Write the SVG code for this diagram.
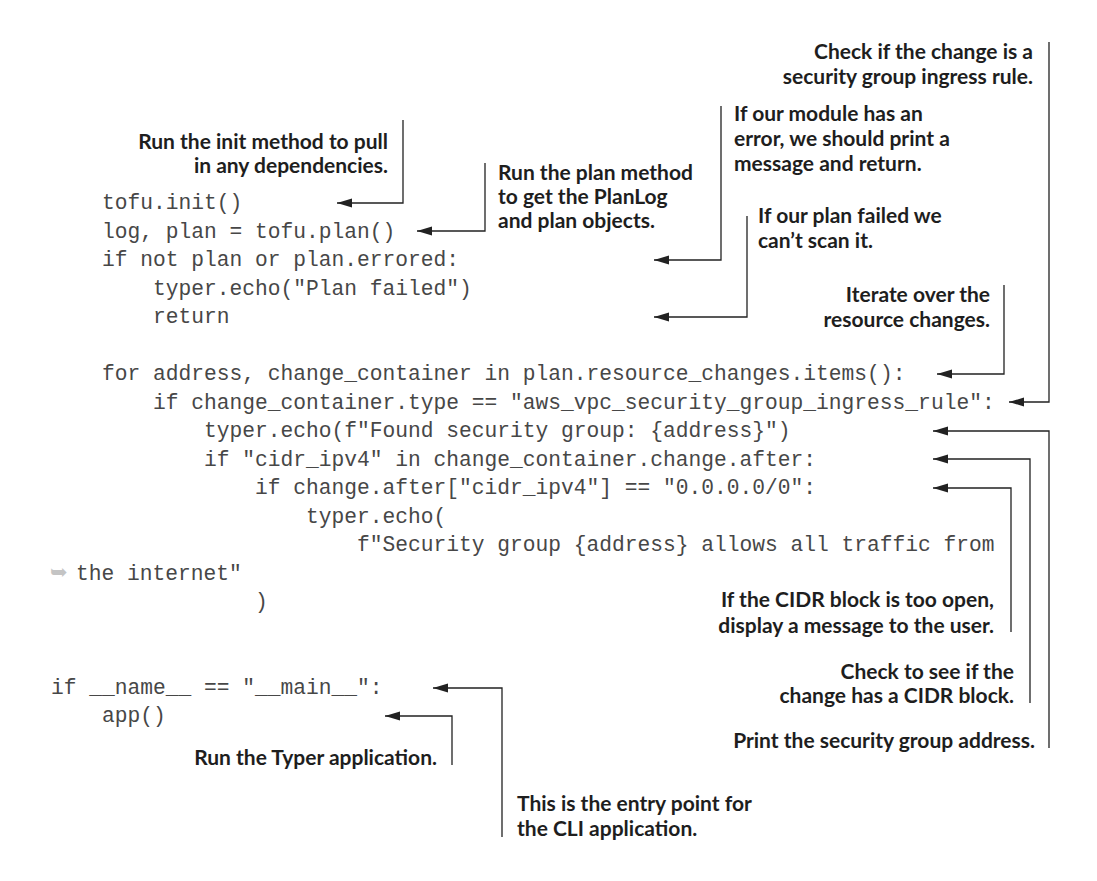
<svg xmlns="http://www.w3.org/2000/svg" width="1097" height="881" viewBox="0 0 1097 881">
<style>
.code{font-family:"Liberation Mono","Courier New",monospace;font-size:21.25px;fill:#474747}
.lbl{font-family:Lato,"Open Sans",sans-serif;font-weight:bold;font-size:21px;fill:#1e1e1e}
.end{text-anchor:end}
.cn{fill:none;stroke:#222;stroke-width:1.3}
.cont{font-family:"DejaVu Sans",sans-serif;font-size:21px;fill:#c4c4c4}
</style>
<defs>
<marker id="ah" markerUnits="userSpaceOnUse" markerWidth="16" markerHeight="10" refX="15" refY="4.5" orient="auto">
<path d="M0,0 L15,4.5 L0,9 z" fill="#222"/>
</marker>
</defs>
<rect width="1097" height="881" fill="#fff"/>
<g id="code">
<text class="code" x="102" y="209">tofu.init()</text>
<text class="code" x="102" y="237.5">log, plan = tofu.plan()</text>
<text class="code" x="102" y="266">if not plan or plan.errored:</text>
<text class="code" x="153" y="294.5">typer.echo("Plan failed")</text>
<text class="code" x="153" y="323">return</text>
<text class="code" x="102" y="380">for address, change_container in plan.resource_changes.items():</text>
<text class="code" x="153" y="408.5">if change_container.type == "aws_vpc_security_group_ingress_rule":</text>
<text class="code" x="204" y="437">typer.echo(f"Found security group: {address}")</text>
<text class="code" x="204" y="465.5">if "cidr_ipv4" in change_container.change.after:</text>
<text class="code" x="255" y="494">if change.after["cidr_ipv4"] == "0.0.0.0/0":</text>
<text class="code" x="306" y="522.5">typer.echo(</text>
<text class="code" x="357" y="551">f"Security group {address} allows all traffic from</text>
<text class="cont" x="50" y="579">➥</text>
<text class="code" x="76" y="579.5">the internet"</text>
<text class="code" x="255" y="608">)</text>
<text class="code" x="51" y="694">if __name__ == "__main__":</text>
<text class="code" x="102" y="722">app()</text>
</g>
<g id="connectors">
<path class="cn" d="M403,120 V203 H337" marker-end="url(#ah)"/>
<path class="cn" d="M485,163 V231 H417" marker-end="url(#ah)"/>
<path class="cn" d="M721,106 V260 H654" marker-end="url(#ah)"/>
<path class="cn" d="M747,216 V317 H654" marker-end="url(#ah)"/>
<path class="cn" d="M1004,285 V374 H937" marker-end="url(#ah)"/>
<path class="cn" d="M1049,42 V402 H1009" marker-end="url(#ah)"/>
<path class="cn" d="M1049,748 V431 H933" marker-end="url(#ah)"/>
<path class="cn" d="M1030,703 V459 H933" marker-end="url(#ah)"/>
<path class="cn" d="M1011,632 V488 H933" marker-end="url(#ah)"/>
<path class="cn" d="M502,837 V688 H433" marker-end="url(#ah)"/>
<path class="cn" d="M452,765 V716 H385" marker-end="url(#ah)"/>
</g>
<g id="note-init">
<text class="lbl end" x="388" y="149">Run the init method to pull</text>
<text class="lbl end" x="388" y="173">in any dependencies.</text>
</g>
<g id="note-plan">
<text class="lbl" x="498" y="180">Run the plan method</text>
<text class="lbl" x="498" y="204">to get the PlanLog</text>
<text class="lbl" x="498" y="228">and plan objects.</text>
</g>
<g id="note-module">
<text class="lbl" x="734" y="121">If our module has an</text>
<text class="lbl" x="734" y="146">error, we should print a</text>
<text class="lbl" x="734" y="171">message and return.</text>
</g>
<g id="note-failed">
<text class="lbl" x="758" y="223">If our plan failed we</text>
<text class="lbl" x="758" y="248">can’t scan it.</text>
</g>
<g id="note-iterate">
<text class="lbl end" x="990" y="302">Iterate over the</text>
<text class="lbl end" x="990" y="327">resource changes.</text>
</g>
<g id="note-ingress">
<text class="lbl end" x="1033" y="59">Check if the change is a</text>
<text class="lbl end" x="1033" y="84">security group ingress rule.</text>
</g>
<g id="note-open">
<text class="lbl end" x="994" y="607">If the CIDR block is too open,</text>
<text class="lbl end" x="994" y="633">display a message to the user.</text>
</g>
<g id="note-cidr">
<text class="lbl end" x="1014" y="679">Check to see if the</text>
<text class="lbl end" x="1014" y="703">change has a CIDR block.</text>
</g>
<g id="note-print">
<text class="lbl end" x="1035" y="748">Print the security group address.</text>
</g>
<g id="note-typer">
<text class="lbl end" x="437" y="765">Run the Typer application.</text>
</g>
<g id="note-entry">
<text class="lbl" x="517" y="811">This is the entry point for</text>
<text class="lbl" x="517" y="836">the CLI application.</text>
</g>
</svg>
